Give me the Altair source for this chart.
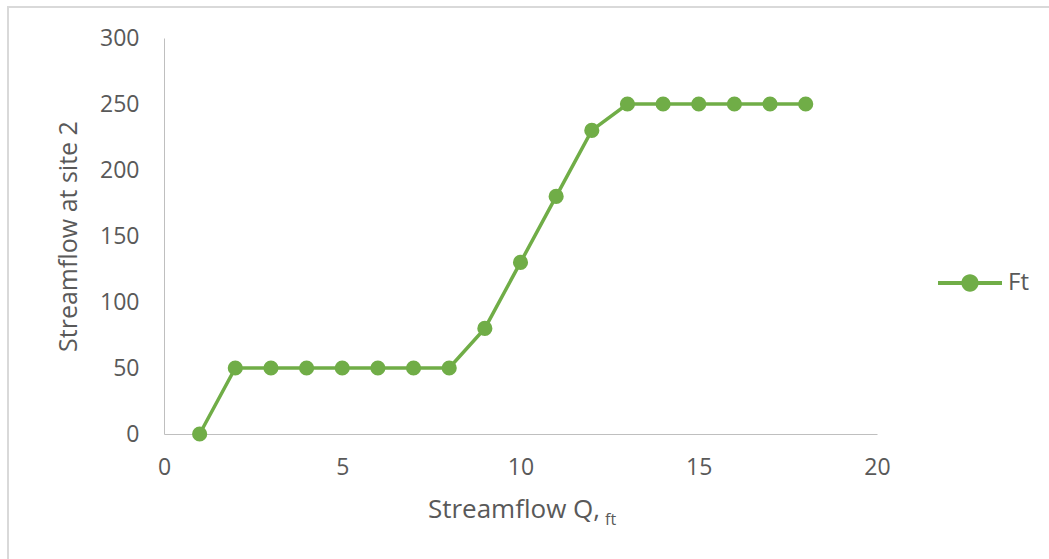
import altair as alt
import pandas as pd

# Streamflow readings
flow_q = [1, 2, 3, 4, 5, 6, 7, 8, 9, 10, 11, 12, 13, 14, 15, 16, 17, 18]
site2 = [0, 50, 50, 50, 50, 50, 50, 50, 80, 130, 180, 230, 250, 250, 250, 250, 250, 250]
series_name = "Ft"

x_ticks = [0, 5, 10, 15, 20]
y_ticks = [0, 50, 100, 150, 200, 250, 300]

GREEN = "#70ad47"
GREY_TEXT = "#595959"
FONT = "Open Sans"

df = pd.DataFrame({"q": flow_q, "flow": site2, "series": [series_name] * len(flow_q)})

# legend glyph: a short line with a dot in the middle
legend_glyph = (
    "M-1,-0.06H1V0.06H-1Z "
    "M0.27,0A0.27,0.27,0,1,1,-0.27,0A0.27,0.27,0,1,1,0.27,0Z"
)

x_enc = alt.X(
    "q:Q",
    scale=alt.Scale(domain=[0, 20], nice=False, zero=False),
    axis=alt.Axis(
        values=x_ticks,
        title=None,
        ticks=False,
        tickSize=0,
        grid=False,
        labelFlush=False,
        labelPadding=22,
        labelFontSize=23,
        labelColor=GREY_TEXT,
        labelFont=FONT,
        domainColor="#bfbfbf",
        domainWidth=1,
    ),
)
y_enc = alt.Y(
    "flow:Q",
    scale=alt.Scale(domain=[0, 300], nice=False),
    axis=alt.Axis(
        values=y_ticks,
        title="Streamflow at site 2",
        titleFontSize=25,
        titleFont=FONT,
        titleFontWeight="normal",
        titleColor=GREY_TEXT,
        titleAngle=270,
        titleX=-96,
        titleY=198,
        titleAlign="center",
        titleBaseline="middle",
        ticks=False,
        tickSize=0,
        grid=False,
        labelFlush=False,
        labelPadding=25,
        labelFontSize=23,
        labelColor=GREY_TEXT,
        labelFont=FONT,
        domainColor="#bfbfbf",
        domainWidth=1,
    ),
)

color_enc = alt.Color(
    "series:N",
    scale=alt.Scale(range=[GREEN]),
    legend=alt.Legend(
        title=None,
        orient="none",
        legendX=774,
        legendY=213,
        padding=0,
        symbolType=legend_glyph,
        symbolSize=4096,
        symbolFillColor=GREEN,
        symbolStrokeWidth=0,
        labelOffset=6,
        labelFontSize=24,
        labelFont=FONT,
        labelColor=GREY_TEXT,
    ),
)

line = alt.Chart(df).mark_line(strokeWidth=3.5, color=GREEN).encode(x=x_enc, y=y_enc)
points = alt.Chart(df).mark_point(filled=True, size=230, opacity=1, shape="circle").encode(
    x=alt.X("q:Q"), y=alt.Y("flow:Q"), color=color_enc
)

# x-axis caption with subscript
title_df = pd.DataFrame({"main": ["Streamflow Q,"], "sub": ["ft"]})
x_title_main = alt.Chart(title_df).mark_text(
    font=FONT, fontSize=26, color=GREY_TEXT, align="right", baseline="middle"
).encode(text="main:N", x=alt.value(436), y=alt.value(472))
x_title_sub = alt.Chart(title_df).mark_text(
    font=FONT, fontSize=16, color=GREY_TEXT, align="left", baseline="middle"
).encode(text="sub:N", x=alt.value(441), y=alt.value(482))

# outer chart frame
frame = alt.Chart(title_df).mark_rect(
    fill=None, stroke="#d9d9d9", strokeWidth=2, clip=False
).encode(x=alt.value(-156), x2=alt.value(900), y=alt.value(-31), y2=alt.value(540))

chart = (
    alt.layer(frame, line, points, x_title_main, x_title_sub)
    .properties(
        width=713,
        height=396,
        autosize=alt.AutoSizeParams(type="none"),
        padding={"left": 164, "top": 38, "right": 172, "bottom": 125},
        background="white",
    )
    .configure_view(stroke=None)
)

chart.save("out.html", embed_options={"renderer": "svg", "actions": False})
